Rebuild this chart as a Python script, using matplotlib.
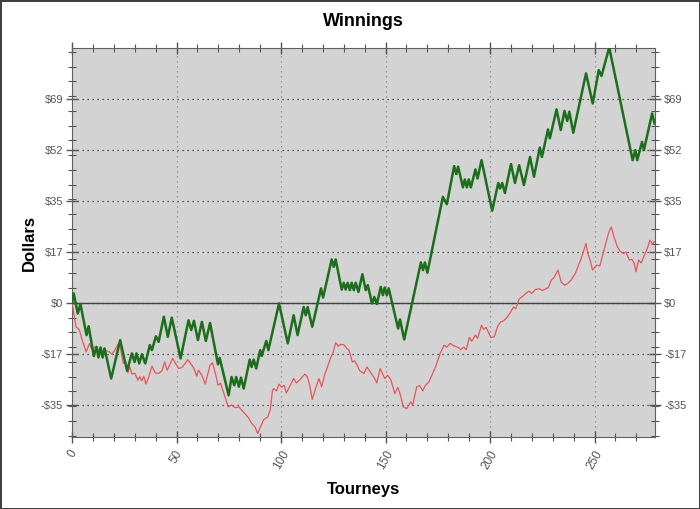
import matplotlib
matplotlib.use("Agg")
from matplotlib import pyplot as plt
from matplotlib.ticker import FixedLocator, MultipleLocator

plt.rcParams['font.family'] = ['Liberation Sans', 'DejaVu Sans']

# vertices of the two running totals (tourney, dollars)
green_x = [0, 0.8, 2.7, 4, 6.9, 7.9, 10.4, 11.7, 12.6, 13.6, 14.6, 15.5, 16.5, 18.7, 23,
           26.3, 28.6, 29.9, 30.8, 32.1, 33.4, 35, 37.2, 38.2, 40.1, 41.4, 43.9, 45.8, 47.7,
           51.9, 55.7, 57, 58.3, 60.2, 62.1, 64, 66, 69.8, 70.6, 74.9, 76.3, 77.6, 78.5, 79.8,
           80.8, 82.1, 85, 85.9, 86.9, 88.1, 90, 90.7, 92.9, 93.9, 99, 103.2, 106, 107.9,
           110.8, 111.8, 112.7, 114.9, 119.1, 120.1, 124.2, 125.2, 126.1, 129, 130, 130.9,
           131.9, 132.9, 133.8, 134.8, 135.7, 137, 138.9, 140.5, 141.5, 143.5, 144.6, 145.8,
           147.7, 148.7, 149.6, 150.6, 151.5, 156, 156.9, 158.9, 166.9, 167.9, 168.8, 170,
           177.4, 179.3, 182.8, 183.8, 184.7, 187, 187.9, 188.9, 189.8, 190.8, 193, 194,
           195.9, 201, 203.9, 204.8, 205.8, 207.1, 210, 211.9, 213.9, 216.2, 219.1, 221,
           223.8, 224.8, 227.7, 228.6, 231.8, 233.8, 235.6, 236.9, 237.9, 239.8, 245.9,
           249.1, 252, 253.3, 257, 268.2, 269.5, 270.4, 272.7, 273.6, 277.5, 278.7]
green_y = [0, 3.2, -3.6, -0.4, -10.9, -7.9, -18.0, -14.9, -18.5, -15.1, -18.5, -15.4, -18.5,
           -25.6, -12.6, -23, -17.1, -20, -17.1, -20.5, -17.4, -20.5, -14.3, -16, -11.3,
           -13.2, -4.7, -11.5, -5, -18.8, -5.9, -9.2, -6.1, -12.6, -6.4, -12.9, -6.8, -20.8,
           -18.6, -31.3, -25.1, -27.9, -25.1, -28.4, -25.3, -29, -19.2, -21.7, -19.2, -22.2,
           -16, -18, -12.9, -16, -0.2, -13.7, -4.2, -10.9, -1.4, -4.2, -1.4, -8.1, 4.9, 1.8,
           14.7, 12.2, 14.7, 4.5, 6.8, 4.5, 6.8, 4.3, 6.8, 4.3, 6.8, 3.7, 9.7, 4.3, 6, -0.2,
           2, -0.4, 5.4, 2.6, 5.2, 2.6, 4.9, -8.7, -5.6, -12.4, 13.7, 11.1, 13.7, 10.2, 35.9,
           33.4, 46.3, 43.6, 46.1, 39.1, 41.8, 39.1, 41.8, 39.1, 45.2, 42.1, 48.3, 31.2, 40.6,
           38.7, 40.6, 37.2, 47, 40.6, 46.6, 39.9, 49.4, 42.7, 52.6, 49.4, 58.7, 55.7, 65.5,
           58.5, 65, 61.6, 64.7, 57.6, 77.7, 67.5, 78.8, 76.8, 86.5, 48.3, 51.7, 48.3, 54.5,
           51.7, 64.1, 60.7]

red_x = [0, 0.8, 1.9, 3.5, 4.6, 6.7, 8.3, 9.5, 11, 12.5, 13.6, 15.5, 17.9, 19, 20.5, 21.9,
         23, 24.5, 25.5, 26.7, 27.6, 28.6, 30, 31.5, 32.4, 33.4, 34.3, 35.3, 36.6, 38.2,
         39.8, 41.4, 43, 44.3, 45.5, 48.1, 49.3, 51, 52.5, 54.1, 55.4, 56.7, 58.3, 59.6,
         60.5, 62.1, 63.7, 66, 67.2, 68.8, 69.8, 71, 73.1, 74.7, 76.3, 78, 79.8, 81.1, 82.7,
         84.5, 85.9, 87.5, 88.8, 90, 91.7, 93.6, 94.8, 95.8, 96.4, 97.8, 99, 100.2, 101.5,
         102.5, 104.4, 106, 107.3, 109, 111.4, 112.5, 113.7, 114.9, 116.5, 118.1, 119.4,
         121, 123.9, 124.8, 126.1, 127.4, 128.6, 130.3, 131.5, 132.5, 134.1, 135.2, 136.4,
         137.6, 139.6, 141.1, 142.7, 144.3, 145.8, 147.4, 148.5, 149.6, 151, 152.5, 154.4,
         155.9, 157, 158.5, 160.2, 162, 163, 164.9, 166.3, 167.8, 169, 170.7, 173.9, 176.1,
         178, 179.2, 180.9, 182.5, 184.7, 186, 187.3, 188.6, 190.1, 191.2, 193, 194, 195.9,
         196.9, 198.1, 200.4, 202, 203.6, 205, 206.4, 208, 209.6, 211.2, 212.3, 213.8, 216,
         218.5, 220, 221.6, 223.5, 225, 227.9, 229.3, 230.5, 232.5, 234, 235.6, 237, 238.8,
         240.8, 243.3, 245.9, 246.8, 248.1, 249, 251, 252.5, 254.5, 256.7, 258, 259.3,
         260.9, 262.2, 263.8, 265, 266.6, 267.8, 268.9, 269.8, 271.1, 272.3, 273.6, 275,
         276.5, 277.8, 278.7]
red_y = [0, -3.6, -8.1, -9.2, -12.1, -16.6, -13.8, -15.8, -14.9, -16.2, -16.6, -16, -16.6,
         -17.4, -16, -14, -14.8, -20.5, -19.8, -23.7, -21.7, -24.1, -23.8, -26.2, -25, -26.4,
         -24.8, -27.5, -25.3, -21.4, -23.7, -23.9, -23, -20, -22.8, -18.8, -20.3, -22.2,
         -21.9, -20.5, -19.2, -20.5, -22.2, -24.8, -22.8, -24.5, -27.5, -21.1, -20.3, -24.5,
         -27.9, -27.2, -31.8, -35.2, -34.6, -35.5, -35.2, -36.3, -37.5, -39, -40.8, -42,
         -44.2, -42.2, -39.5, -38.6, -36.3, -30.1, -29, -29.8, -27.5, -28.5, -27.9, -30.5,
         -27.9, -25.6, -27.1, -26, -24.1, -25, -27.9, -32.7, -29, -25.6, -28.4, -24, -18.3,
         -17, -13.5, -14.7, -14, -14.3, -15.5, -16, -20, -19.6, -21.1, -23, -23.9, -21.7,
         -23.4, -25.1, -27.1, -22.2, -24, -25.6, -24.5, -26, -30.7, -28.6, -31, -35.2, -35.8,
         -33.5, -34.5, -28.4, -28, -29.8, -28, -26.8, -21.7, -17.1, -14.3, -15, -13.7, -14.5,
         -15.1, -15.8, -15, -15.8, -11.7, -13, -10.9, -12, -7.6, -9, -8.3, -11.7, -11.5,
         -7.9, -6.5, -6.1, -5, -3.4, -1.4, -2, 1.2, 2.5, 4, 3.2, 4.5, 4.8, 4.2, 5.2, 7.7,
         8.5, 11.1, 7.1, 6, 6.5, 7.7, 10, 14.5, 20.1, 16.7, 13.9, 11.1, 12.8, 12.5, 17.8,
         23.7, 25.7, 22.3, 19, 17.5, 16.7, 17.2, 14.5, 14.8, 13.5, 10.5, 14.5, 13.5, 15.8,
         18, 21.2, 19.9, 20.8]

y_ticks = [-34.5, -17.25, 0, 17.25, 34.5, 51.75, 69]
y_labels = ["-$35", "-$17", "$0", "$17", "$35", "$52", "$69"]
x_ticks = [0, 50, 100, 150, 200, 250]

fig = plt.figure(figsize=(7, 5.09), dpi=100, facecolor='white', edgecolor='#404040', linewidth=2)
ax = fig.add_axes([0.103, 0.1415, 0.833, 0.764])
ax.set_facecolor('#d3d3d3')

ax.axhline(0, color='#404040', lw=1, zorder=2)
ax.plot(red_x, red_y, color='#e8555a', lw=0.9, zorder=3)
ax.plot(green_x, green_y, color='#1b6e1b', lw=1.8, zorder=4)

ax.set_xlim(0, 279)
ax.set_ylim(-45.4, 86.25)

ax.yaxis.set_major_locator(FixedLocator(y_ticks))
ax.set_yticklabels(y_labels)
ax.yaxis.set_minor_locator(MultipleLocator(5))
ax.xaxis.set_major_locator(FixedLocator(x_ticks))
ax.xaxis.set_minor_locator(MultipleLocator(10))

for t in y_ticks:
    ax.axhline(t, color='#333333', lw=0.9, ls=(0, (1, 3)), zorder=1)
for t in x_ticks[1:]:
    ax.axvline(t, color='#888888', lw=0.9, ls=(0, (1, 3)), zorder=1)

ax.tick_params(axis='both', which='both', direction='inout', colors='#555555',
               labelcolor='#555555', labelsize=8, top=True, right=True,
               labelright=True)
ax.tick_params(axis='both', which='major', length=9, width=1)
ax.tick_params(axis='both', which='minor', length=6, width=0.8)
ax.tick_params(axis='y', pad=2)
ax.tick_params(axis='x', labelsize=8.5)
plt.setp(ax.get_xticklabels(), rotation=60)

for s in ax.spines.values():
    s.set_color('#606060')

ax.set_title("Winnings", fontsize=13, fontweight='bold', pad=16)
ax.set_xlabel("Tourneys", fontsize=12, fontweight='bold', labelpad=8)
ax.set_ylabel("Dollars", fontsize=12, fontweight='bold')
ax.yaxis.set_label_coords(-0.06, 0.5)

plt.savefig("out.png", dpi=100)
